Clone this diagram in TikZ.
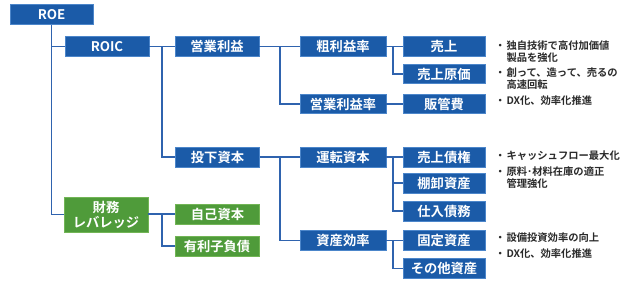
\documentclass[tikz,border=0pt]{standalone}
\usepackage{fontspec}
\setmainfont{Noto Sans CJK JP}[BoldFont=* Bold]
\newfontfamily\jpb{Noto Sans CJK JP Bold}
\definecolor{bfill}{HTML}{1B5BA8}
\definecolor{bline}{HTML}{4C86CA}
\definecolor{gfill}{HTML}{4F9B3A}
\definecolor{gline}{HTML}{72B556}
\definecolor{conn}{HTML}{2F63AE}
\definecolor{txt}{HTML}{2A2A2A}
\begin{document}
\begin{tikzpicture}[x=1pt,y=-1pt,
  bbox/.style={draw=bline,fill=bfill,line width=0.8pt,text=white,font=\jpb\fontsize{13.3}{14}\selectfont,
    minimum width=84pt,minimum height=19.5pt,inner sep=0pt,align=center},
  gbox/.style={bbox,draw=gline,fill=gfill},
  wide/.style={minimum width=86pt},
  con/.style={draw=conn,line width=1.2pt},
  note/.style={anchor=west,inner sep=0pt,text=txt,font=\jpb\fontsize{10.3}{12}\selectfont}]
\useasboundingbox (0,0) rectangle (624,282);
% nodes
\node[bbox,minimum width=83pt] (roe) at (51.5,14.5) {ROE};
\node[bbox] (roic) at (107,46.5) {ROIC};
\node[bbox] (eig) at (217,46.5) {営業利益};
\node[bbox,minimum height=20pt] (toka) at (217.5,157) {投下資本};
\node[gbox,minimum height=35pt,font=\jpb\fontsize{13.3}{15}\selectfont] (fin) at (106,214.5) {財務\\レバレッジ};
\node[gbox,minimum height=20pt] (jiko) at (217.5,214) {自己資本};
\node[gbox,minimum height=20pt] (yuri) at (217,246) {有利子負債};
\node[bbox,wide] (ara) at (343,46.5) {粗利益率};
\node[bbox,wide,minimum height=18.5pt] (eir) at (343,104) {営業利益率};
\node[bbox,wide,minimum height=20pt] (unten) at (343,157) {運転資本};
\node[bbox,wide] (shisan) at (343,240.5) {資産効率};
\node[bbox,minimum width=82pt] (uri) at (444,46.5) {売上};
\node[bbox,minimum width=82pt,minimum height=18.5pt] (genka) at (444,74) {売上原価};
\node[bbox,minimum width=82pt,minimum height=18.5pt] (hank) at (444,104) {販管費};
\node[bbox,minimum width=82pt,minimum height=20pt] (urik) at (444,157) {売上債権};
\node[bbox,minimum width=82pt,minimum height=20pt] (tana) at (444,183) {棚卸資産};
\node[bbox,minimum width=82pt,minimum height=20pt] (shii) at (444,211) {仕入債務};
\node[bbox,minimum width=82pt] (kotei) at (444,240.5) {固定資産};
\node[bbox,minimum width=82pt] (sonota) at (444,268.5) {その他資産};
% junctions
\coordinate (j1) at (162,46.5);
\coordinate (j2) at (162,214);
\coordinate (j3) at (280,46.5);
\coordinate (j4) at (280,157);
\coordinate (j5) at (393,46.5);
\coordinate (j6) at (393,157);
\coordinate (j7) at (393,240.5);
% connectors
\draw[con] (roe.south) |- (fin.west);
\draw[con] (roe.south |- roic.west) -- (roic.west);
\draw[con] (roic.east) -- (eig.west);
\draw[con] (j1) |- (toka.west);
\draw[con] (fin.east |- jiko.west) -- (jiko.west);
\draw[con] (j2) |- (yuri.west);
\draw[con] (eig.east) -- (ara.west);
\draw[con] (j3) |- (eir.west);
\draw[con] (toka.east) -- (unten.west);
\draw[con] (j4) |- (shisan.west);
\draw[con] (ara.east) -- (uri.west);
\draw[con] (j5) |- (genka.west);
\draw[con] (eir.east) -- (hank.west);
\draw[con] (unten.east) -- (urik.west);
\draw[con] (j6) |- (tana.west);
\draw[con] (j6) |- (shii.west);
\draw[con] (shisan.east) -- (kotei.west);
\draw[con] (j7) |- (sonota.west);
% notes
\node[note] (n1) at (495,53) {\begin{tabular}{@{}l@{\hspace{1pt}}l@{}}・&独自技術で高付加価値\\&製品を強化\end{tabular}};
\node[note] (n2) at (495,80) {\begin{tabular}{@{}l@{\hspace{1pt}}l@{}}・&創って、造って、売るの\\&高速回転\end{tabular}};
\node[note] (n3) at (495,102) {\begin{tabular}{@{}l@{\hspace{1pt}}l@{}}・&DX化、効率化推進\end{tabular}};
\node[note] (n4) at (495,157) {\begin{tabular}{@{}l@{\hspace{1pt}}l@{}}・&キャッシュフロー最大化\end{tabular}};
\node[note] (n5) at (495,179) {\begin{tabular}{@{}l@{\hspace{1pt}}l@{}}・&原料･材料在庫の適正\\&管理強化\end{tabular}};
\node[note] (n6) at (495,239) {\begin{tabular}{@{}l@{\hspace{1pt}}l@{}}・&設備投資効率の向上\end{tabular}};
\node[note] (n7) at (495,255) {\begin{tabular}{@{}l@{\hspace{1pt}}l@{}}・&DX化、効率化推進\end{tabular}};
\end{tikzpicture}
\end{document}
